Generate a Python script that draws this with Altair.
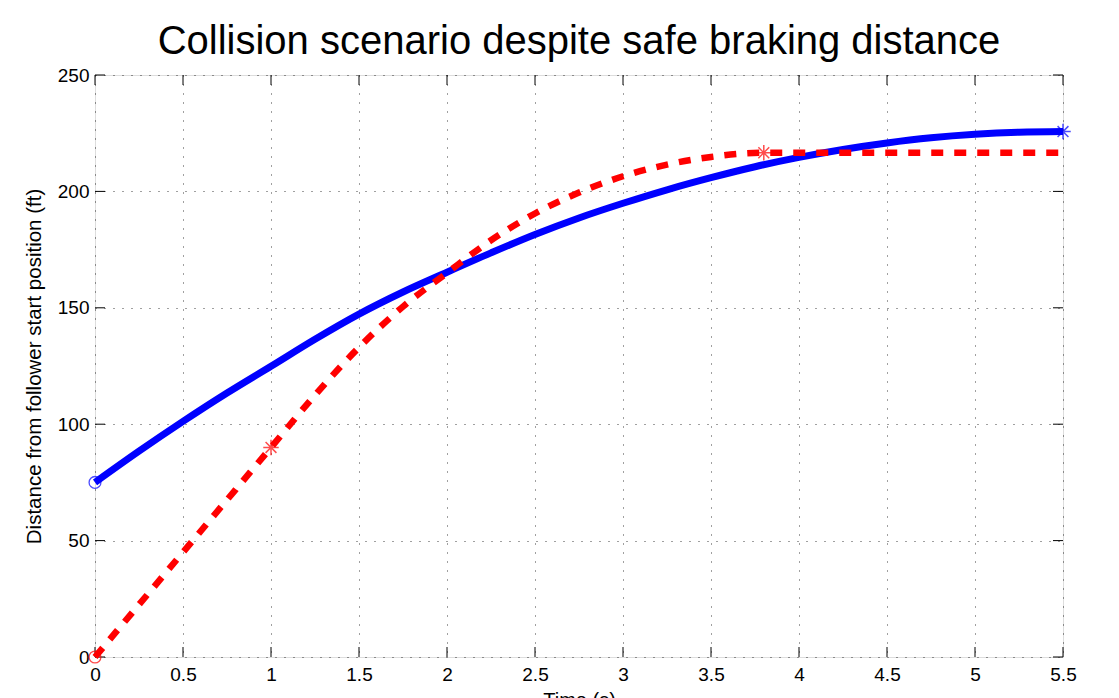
import altair as alt
import pandas as pd

# ---- data ----
leader_t = [0, 0.25, 0.5, 0.75, 1, 1.25, 1.5, 1.75, 2, 2.25, 2.5, 2.75, 3,
            3.25, 3.5, 3.75, 4, 4.25, 4.5, 4.75, 5, 5.25, 5.5]
leader_d = [75, 88.4, 101.2, 113.4, 124.9, 136.5, 147.3, 156.8, 165.3, 173.6,
            181.5, 188.6, 194.9, 200.7, 205.9, 210.6, 214.6, 218.0, 220.8,
            223.0, 224.5, 225.4, 225.7]

follower_t = [0, 1, 1.25, 1.5, 1.75, 2, 2.25, 2.5, 2.75, 3, 3.25, 3.5, 3.8, 5.5]
follower_d = [0, 90, 112.5, 133, 150.5, 165, 179, 190.5, 199.5, 206.5, 211.5,
              214.8, 216.6, 216.6]

marker_t = [0, 5.5, 0, 1, 3.8]
marker_d = [75, 225.7, 0, 90, 216.6]
marker_series = ["leader", "leader", "follower", "follower", "follower"]
marker_kind = ["circle", "star", "circle", "star", "star"]

x_ticks = [0, 0.5, 1, 1.5, 2, 2.5, 3, 3.5, 4, 4.5, 5, 5.5]
y_ticks = [0, 50, 100, 150, 200, 250]

title_text = "Collision scenario despite safe braking distance"
x_title = "Time (s)"
y_title = "Distance from follower start position (ft)"

# ---- tables ----
leader_df = pd.DataFrame({"t": leader_t, "d": leader_d})
follower_df = pd.DataFrame({"t": follower_t, "d": follower_d})
markers_df = pd.DataFrame({"t": marker_t, "d": marker_d,
                           "series": marker_series, "kind": marker_kind})
xt_df = pd.DataFrame({"t": x_ticks})
yt_df = pd.DataFrame({"d": y_ticks})

W, H = 968, 582
FONT = "Liberation Sans"
TICK = 10

xscale = alt.Scale(domain=[0, 5.5], nice=False, zero=False)
yscale = alt.Scale(domain=[0, 250], nice=False, zero=False)

xaxis = alt.Axis(values=x_ticks, format="~g", grid=True, gridColor="black",
                 gridDash=[1, 8], gridOpacity=0.75, gridWidth=1,
                 domain=False, ticks=False, labelFlush=False,
                 labelFont=FONT, labelFontSize=19,
                 labelColor="black", labelPadding=8, titleFont=FONT,
                 titleFontSize=20, titleFontWeight="normal", titleColor="black",
                 titlePadding=6)
yaxis = alt.Axis(values=y_ticks, grid=True, gridColor="black",
                 gridDash=[1, 8], gridOpacity=0.75, gridWidth=1,
                 domain=False, ticks=False, labelFlush=False,
                 labelFont=FONT, labelFontSize=19,
                 labelColor="black", labelPadding=6, titleFont=FONT,
                 titleFontSize=20.5, titleFontWeight="normal", titleColor="black",
                 titlePadding=13)

X = alt.X("t:Q", scale=xscale, axis=xaxis, title=x_title)
Y = alt.Y("d:Q", scale=yscale, axis=yaxis, title=y_title)

leader = alt.Chart(leader_df).mark_line(
    color="#0000ff", strokeWidth=7, interpolate="monotone"
).encode(x=X, y=Y)

follower = alt.Chart(follower_df).mark_line(
    color="#ff0000", strokeWidth=6.5, strokeDash=[12, 11], strokeCap="butt",
    interpolate="monotone"
).encode(x=X, y=Y)

color_scale = alt.Scale(domain=["leader", "follower"], range=["#0000ff", "#ff0000"])
star_path = ("M-1,0L1,0M0,-1L0,1M-0.7,-0.7L0.7,0.7M-0.7,0.7L0.7,-0.7")

circles = alt.Chart(markers_df).transform_filter(
    alt.datum.kind == "circle"
).mark_point(shape="circle", filled=False, size=140, strokeWidth=1.3,
             clip=False).encode(
    x=X, y=Y, color=alt.Color("series:N", scale=color_scale, legend=None))

stars = alt.Chart(markers_df).transform_filter(
    alt.datum.kind == "star"
).mark_point(shape=star_path, filled=False, size=240, strokeWidth=1.5,
             clip=False).encode(
    x=X, y=Y, color=alt.Color("series:N", scale=color_scale, legend=None))

tick_bottom = alt.Chart(xt_df).mark_rule(color="black", strokeWidth=1).encode(
    x=X, y=alt.value(H), y2=alt.value(H - TICK))
tick_top = alt.Chart(xt_df).mark_rule(color="black", strokeWidth=1).encode(
    x=X, y=alt.value(0), y2=alt.value(TICK))
tick_left = alt.Chart(yt_df).mark_rule(color="black", strokeWidth=1).encode(
    y=Y, x=alt.value(0), x2=alt.value(TICK))
tick_right = alt.Chart(yt_df).mark_rule(color="black", strokeWidth=1).encode(
    y=Y, x=alt.value(W), x2=alt.value(W - TICK))

chart = alt.layer(
    tick_bottom, tick_top, tick_left, tick_right,
    leader, follower, circles, stars
).properties(
    width=W, height=H,
    title=alt.TitleParams(title_text, font=FONT, fontSize=40,
                          fontWeight="normal", color="black", anchor="middle",
                          offset=4),
    autosize=alt.AutoSizeParams(type="none"),
    padding={"left": 87, "top": 67, "right": 48, "bottom": 60},
).configure_view(
    stroke="#222222", strokeWidth=1.5
).configure(background="white")

chart.save("out.html", embed_options={"renderer": "svg", "actions": False})
